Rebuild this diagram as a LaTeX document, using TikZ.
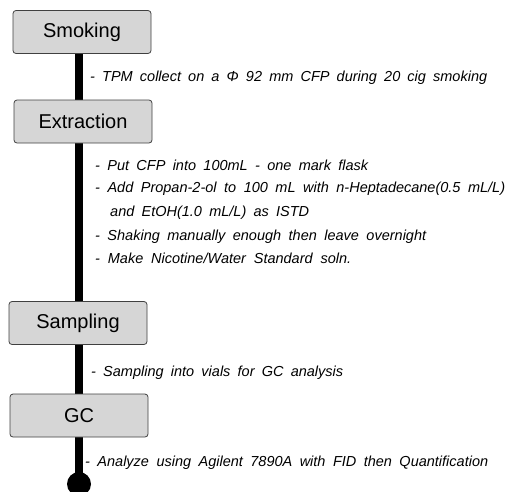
\documentclass[tikz,border=0pt]{standalone}
\usepackage{fontspec}
\setmainfont{Liberation Sans}
\newcommand{\fitline}[2]{\hbox to #1pt{\spaceskip=3.8pt plus 100pt\relax #2}}
\begin{document}
\begin{tikzpicture}[x=1pt,y=-1pt,
  stepbox/.style={draw=black!75,line width=0.8pt,fill=black!16,rounded corners=3pt,minimum width=138pt,minimum height=43pt,font=\fontsize{20}{24}\selectfont,inner sep=0pt},
  note/.style={anchor=west,font=\fontsize{14.5}{16}\selectfont\itshape,inner sep=0pt},
  spine/.style={line width=8pt}]
\useasboundingbox (0,0) rectangle (508,491);
\coordinate (top) at (79,54);
\fill (79,484) circle (12);
\coordinate (bot) at (79,484);
\draw[spine] (top) -- (bot);
\node[stepbox] (smoking) at (82,32) {Smoking};
\node[stepbox] (extraction) at (83,121.5) {Extraction};
\node[stepbox] (sampling) at (78,323) {Sampling};
\node[stepbox] (gc) at (79,415.5) {GC};
\node[note] (n1) at (90,78) {\fitline{397}{- TPM collect on a Φ 92 mm CFP during 20 cig smoking}};
\node[note] (n2) at (95,165) {\fitline{273}{- Put CFP into 100mL - one mark flask}};
\node[note] (n3) at (95,189) {\fitline{410}{- Add Propan-2-ol to 100 mL with n-Heptadecane(0.5 mL/L)}};
\node[note] (n4) at (110,212.5) {\fitline{199}{and EtOH(1.0 mL/L) as ISTD}};
\node[note] (n5) at (95,236.5) {\fitline{331}{- Shaking manually enough then leave overnight}};
\node[note] (n6) at (95,258.5) {\fitline{256}{- Make Nicotine/Water Standard soln.}};
\node[note] (n7) at (91,373) {\fitline{252}{- Sampling into vials for GC analysis}};
\node[note] (n8) at (85,463) {\fitline{403}{- Analyze using Agilent 7890A with FID then Quantification}};
\end{tikzpicture}
\end{document}
